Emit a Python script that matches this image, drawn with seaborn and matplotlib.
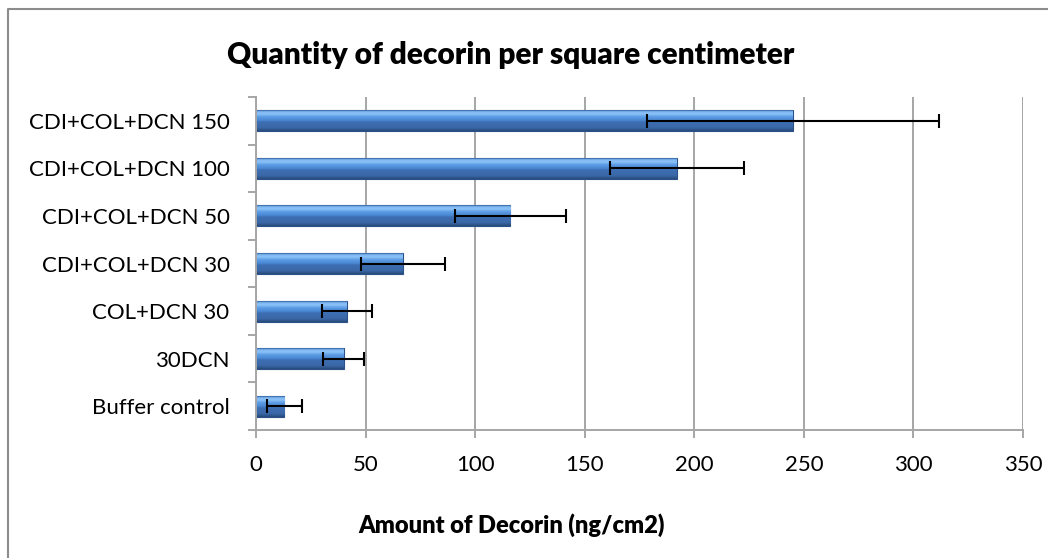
import matplotlib
matplotlib.use("Agg")
import matplotlib.pyplot as plt
import numpy as np
import pandas as pd
import seaborn as sns
from matplotlib.colors import LinearSegmentedColormap
from matplotlib.lines import Line2D

# datos (de arriba a abajo)
grupos = ["CDI+COL+DCN 150", "CDI+COL+DCN 100", "CDI+COL+DCN 50",
          "CDI+COL+DCN 30", "COL+DCN 30", "30DCN", "Buffer control"]
decorina = [245, 192, 116, 67, 41.5, 40, 13]
error = [66.5, 30.5, 25.3, 19.3, 11.3, 9.3, 8]
ticks_x = [0, 50, 100, 150, 200, 250, 300, 350]

df = pd.DataFrame({"grupo": grupos, "decorina": decorina, "error": error})

sns.set_style("white")
plt.rcParams["font.family"] = ["Lato", "DejaVu Sans"]
plt.rcParams["text.color"] = "black"
plt.rcParams["xtick.labelcolor"] = "black"
plt.rcParams["ytick.labelcolor"] = "black"

fig = plt.figure(figsize=(10.48, 5.58), dpi=100)
ax = fig.add_axes([256 / 1048, 1 - 430 / 558, (1023 - 256) / 1048, (430 - 97) / 558])

sns.barplot(data=df, x="decorina", y="grupo", orient="h", order=grupos,
            color="#4a86d2", width=0.44, edgecolor="#2b5188", linewidth=0.8,
            ax=ax, zorder=2)

# degradado tipo Excel dentro de cada barra
grad_cmap = LinearSegmentedColormap.from_list("bisel", [
    (0.0, "#2f5f9e"), (0.07, "#7fb6f2"), (0.18, "#8cc2f7"), (0.32, "#5b9be4"),
    (0.5, "#4a86d2"), (0.56, "#3e6fb3"), (0.85, "#3a67a6"), (1.0, "#284a7c")])
grad = np.linspace(0, 1, 64).reshape(-1, 1)
for p in ax.patches:
    bb = p.get_bbox()
    im = ax.imshow(grad, cmap=grad_cmap, aspect="auto", origin="upper",
                   extent=[bb.x0, bb.x1, max(bb.y0, bb.y1), min(bb.y0, bb.y1)],
                   zorder=2.5, interpolation="bilinear")
    im.set_clip_path(p)
ax.set_xlim(0, 350)
ax.set_ylim(len(grupos) - 0.5, -0.5)

ax.errorbar(df["decorina"], np.arange(len(grupos)), xerr=df["error"], fmt="none",
            ecolor="black", elinewidth=1.5, capsize=5, capthick=1.5, zorder=5)

gris = "#a6a6a6"
ax.set_xticks(ticks_x)
ax.set_xticklabels([str(t) for t in ticks_x], fontsize=16)
ax.xaxis.grid(True, color=gris, linewidth=1.4, zorder=0)
ax.yaxis.grid(False)
ax.set_axisbelow(True)
ax.tick_params(axis="x", direction="out", length=6, width=1.4, color=gris, pad=12,
               bottom=True)
ax.set_yticks(np.arange(len(grupos)))
ax.set_yticklabels(grupos, fontsize=16)
ax.set_yticks(np.arange(len(grupos) + 1) - 0.5, minor=True)
ax.tick_params(axis="y", which="major", length=0, pad=19)
ax.tick_params(axis="y", which="minor", direction="out", length=6, width=1.4,
               color=gris, left=True)
for lado in ["top", "right"]:
    ax.spines[lado].set_visible(False)
for lado in ["left", "bottom"]:
    ax.spines[lado].set_color(gris)
    ax.spines[lado].set_linewidth(1.4)

ax.set_xlabel("")
ax.set_ylabel("")

fig.text(511 / 1048, 1 - 55 / 558, "Quantity of decorin per square centimeter",
         ha="center", va="center", fontsize=21.5, fontweight="heavy")
fig.text(512 / 1048, 1 - 525 / 558, "Amount of Decorin (ng/cm2)",
         ha="center", va="center", fontsize=17, fontweight="heavy")

# borde del área del gráfico
borde_x, borde_y = 8 / 1048, 1 - 9 / 558
fig.add_artist(Line2D([borde_x, borde_x, 1.0], [0.0, borde_y, borde_y],
                      transform=fig.transFigure, color="#8c8c8c", linewidth=1.5))

fig.savefig("out.png", dpi=100)
